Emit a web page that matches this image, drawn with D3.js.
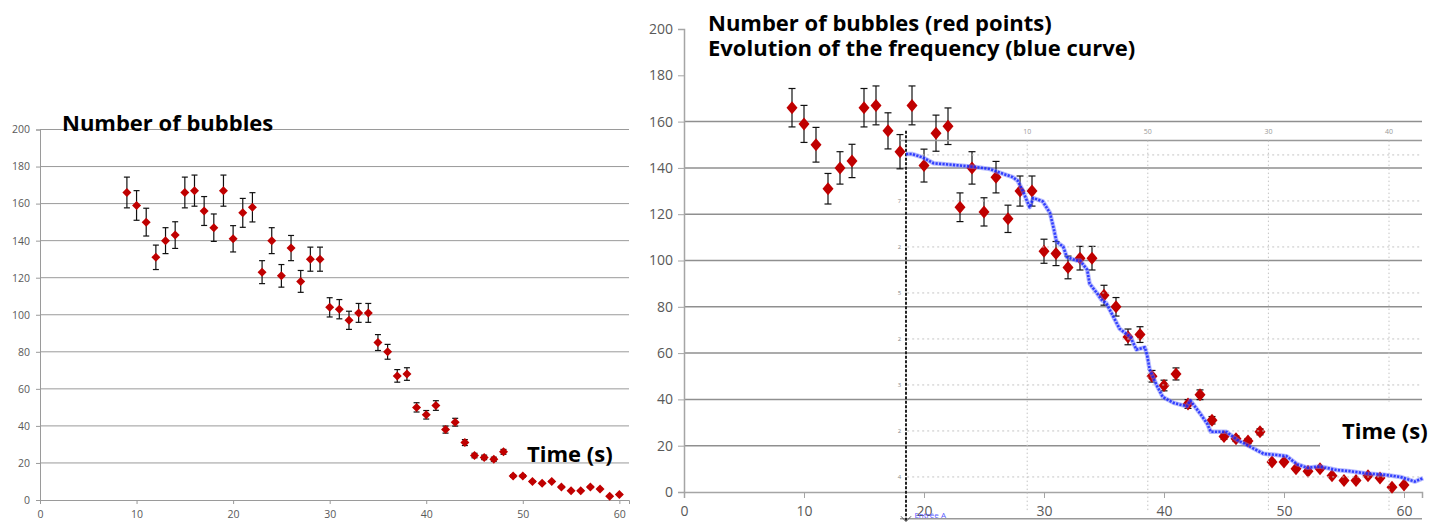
<!DOCTYPE html>
<html>
<head>
<meta charset="utf-8">
<script src="https://cdn.jsdelivr.net/npm/d3@7"></script>
<style>
  body { margin: 0; background: #fff; }
  text { font-family: "Open Sans", sans-serif; }
</style>
</head>
<body>
<svg id="chart" width="1448" height="525"></svg>
<script>
// ---- data ----
const seconds = [9, 10, 11, 12, 13, 14, 15, 16, 17, 18, 19, 20, 21, 22, 23, 24, 25, 26, 27, 28,
  29, 30, 31, 32, 33, 34, 35, 36, 37, 38, 39, 40, 41, 42, 43, 44, 45, 46, 47, 48,
  49, 50, 51, 52, 53, 54, 55, 56, 57, 58, 59, 60];
const bubbles = [166, 159, 150, 131, 140, 143, 166, 167, 156, 147, 167, 141, 155, 158, 123, 140, 121, 136, 118, 130,
  130, 104, 103, 97, 101, 101, 85, 80, 67, 68, 50, 46, 51, 38, 42, 31, 24, 23, 22, 26,
  13, 13, 10, 9, 10, 7, 5, 5, 7, 6, 2, 3];
const bubbleErr = [8.3, 8.0, 7.5, 6.6, 7.0, 7.2, 8.3, 8.4, 7.8, 7.4, 8.4, 7.1, 7.8, 7.9, 6.2, 7.0, 6.1, 6.8, 5.9, 6.5,
  6.5, 5.2, 5.2, 4.9, 5.1, 5.1, 4.3, 4.0, 3.4, 3.4, 2.5, 2.3, 2.6, 1.9, 2.1, 1.6, 1.2, 1.2, 1.1, 1.3,
  0.7, 0.7, 0.5, 0.5, 0.5, 0.4, 0.3, 0.3, 0.4, 0.3, 0.1, 0.2];

// blue frequency curve (rescaled onto the bubble axis)
const freqTime = [18.5, 19.0, 19.9, 20.8, 22.0, 24.1, 25.5, 26.3, 27.4, 27.8, 28.2, 28.8, 29.1, 29.9, 30.5, 30.8,
  31.05, 31.6, 31.9, 32.7, 33.0, 33.6, 33.8, 34.4, 34.8, 35.2, 35.8, 36.3, 37.2, 37.7, 38.4, 38.6,
  38.8, 39.4, 39.9, 40.8, 41.9, 42.2, 43.0, 43.6, 43.9, 45.2, 46.1, 47.2, 48.3, 49.4, 50.2, 51.1,
  51.9, 53.0, 54.4, 55.5, 56.9, 58.3, 59.7, 60.9, 61.6];
const freqValue = [146, 146, 144.5, 142, 141.5, 140.5, 139.5, 138, 136, 134.5, 130.5, 123, 127, 125.5, 120.5, 114,
  108, 106, 101.5, 100, 100, 96, 90, 86, 83, 81.5, 75.5, 70.5, 67, 61.5, 62.5, 59,
  53, 46, 41, 38.5, 37, 39.5, 34, 29.5, 26, 26, 22.5, 19.5, 16.5, 16, 15.5, 12,
  10.5, 11, 9.5, 9, 8, 7.5, 6.5, 4.5, 6];

const yTicks = [0, 20, 40, 60, 80, 100, 120, 140, 160, 180, 200];
const xTicks = [0, 10, 20, 30, 40, 50, 60];

// labels of the pasted frequency screenshot
const insetTopLabels = ["10", "50", "30", "40"];
const insetSideLabels = ["", "7", "2", "5", "2", "3", "2", "4"];

const svg = d3.select("#chart");
svg.append("rect").attr("width", 1448).attr("height", 525).attr("fill", "#fff");

function diamond(w, h) {
  return `M0,${-h}L${w},0L0,${h}L${-w},0Z`;
}

function drawPanel(p) {
  const g = svg.append("g");
  const x = d3.scaleLinear().domain([0, p.xMax]).range(p.xRange);
  const y = d3.scaleLinear().domain([0, 200]).range(p.yRange);

  // gridlines
  g.selectAll(".grid")
    .data(yTicks.filter(v => v > 0 && v <= p.gridMax))
    .join("line")
    .attr("x1", x(0)).attr("x2", x(p.xMax))
    .attr("y1", d => y(d)).attr("y2", d => y(d))
    .attr("stroke", p.gridColor).attr("stroke-width", p.gridWidth);

  // axes
  const yAxis = d3.axisLeft(y).tickValues(yTicks).tickSize(p.tick).tickPadding(p.pad);
  const ya = g.append("g").attr("transform", `translate(${x(0)},0)`).call(yAxis);
  const xAxis = d3.axisBottom(x).tickValues(xTicks).tickSize(p.tick).tickPadding(p.xpad);
  const xa = g.append("g").attr("transform", `translate(0,${y(0)})`).call(xAxis);
  [ya, xa].forEach(a => {
    a.select(".domain").attr("stroke", p.axisColor).attr("stroke-width", p.gridWidth);
    a.selectAll(".tick line").attr("stroke", p.axisColor);
    a.selectAll(".tick text").attr("fill", "#595959").style("font-size", p.font + "px")
      .style("font-family", "'Open Sans', sans-serif");
  });
  return { g, x, y };
}

function drawPoints(panel, p) {
  const { g, x, y } = panel;
  const pts = seconds.map((t, i) => ({ t, v: bubbles[i], e: bubbleErr[i] }));
  const eb = g.append("g").attr("stroke", "#111").attr("stroke-width", 1.2);
  pts.forEach(d => {
    eb.append("line").attr("x1", x(d.t)).attr("x2", x(d.t))
      .attr("y1", y(d.v + d.e)).attr("y2", y(d.v - d.e));
    [d.v + d.e, d.v - d.e].forEach(v => eb.append("line")
      .attr("x1", x(d.t) - p.cap).attr("x2", x(d.t) + p.cap)
      .attr("y1", y(v)).attr("y2", y(v)));
  });
  g.append("g").selectAll("path")
    .data(pts)
    .join("path")
    .attr("d", diamond(p.dw, p.dh))
    .attr("transform", d => `translate(${x(d.t)},${y(d.v)})`)
    .attr("fill", "#c00000");
}

// ---------- left chart ----------
const left = drawPanel({
  xMax: 61, xRange: [40, 629], yRange: [500, 129.5],
  gridMax: 200, gridColor: "#9a9a9a", gridWidth: 1, axisColor: "#9a9a9a",
  tick: 4, pad: 6, xpad: 7, font: 10.5
});
drawPoints(left, { cap: 3, dw: 4.5, dh: 4.5 });

svg.append("text").attr("x", 62).attr("y", 131)
  .attr("font-weight", 700).attr("font-size", 22).text("Number of bubbles");
svg.append("text").attr("x", 527).attr("y", 462)
  .attr("font-weight", 700).attr("font-size", 22).text("Time (s)");

// ---------- right chart ----------
const right = drawPanel({
  xMax: 61.5, xRange: [684, 1422], yRange: [492, 29],
  gridMax: 160, gridColor: "#8f8f8f", gridWidth: 1.5, axisColor: "#a5a5a5",
  tick: 6, pad: 5, xpad: 8, font: 14
});
const rx = right.x, ry = right.y;

// pasted screenshot of the frequency measurement
const inset = svg.append("g");
const ix = d3.scaleLinear().domain([0, 3]).range([rx(28.6), rx(58.75)]);
const iy = d3.scaleLinear().domain([0, 7]).range([ry(145.6), ry(6.5)]);
inset.append("line").attr("x1", rx(18)).attr("x2", rx(61.5))
  .attr("y1", ry(151.8)).attr("y2", ry(151.8)).attr("stroke", "#999").attr("stroke-width", 1.5);
inset.append("line").attr("x1", rx(18)).attr("x2", rx(61.5))
  .attr("y1", ry(-11.6)).attr("y2", ry(-11.6)).attr("stroke", "#999").attr("stroke-width", 1.5);
inset.selectAll(".vg").data(insetTopLabels).join("line")
  .attr("x1", (d, i) => ix(i)).attr("x2", (d, i) => ix(i))
  .attr("y1", ry(151.8)).attr("y2", ry(-8))
  .attr("stroke", "#c4c4c4").attr("stroke-dasharray", "1.5,2.5");
inset.selectAll(".hg").data(insetSideLabels).join("line")
  .attr("x1", rx(18.6)).attr("x2", rx(61.5))
  .attr("y1", (d, i) => iy(i)).attr("y2", (d, i) => iy(i))
  .attr("stroke", "#c4c4c4").attr("stroke-dasharray", "2,3");
inset.selectAll(".tl").data(insetTopLabels).join("text")
  .attr("x", (d, i) => ix(i)).attr("y", ry(154.6))
  .attr("text-anchor", "middle").attr("font-size", 7).attr("fill", "#999").text(d => d);
inset.selectAll(".sl").data(insetSideLabels).join("text")
  .attr("x", rx(18.1)).attr("y", (d, i) => iy(i) + 2.5)
  .attr("text-anchor", "end").attr("font-size", 6).attr("fill", "#888").text(d => d);

// white box behind the time label
svg.append("rect").attr("x", rx(53)).attr("y", ry(39)).attr("width", 130).attr("height", 56).attr("fill", "#fff");

// dashed start marker with arrow
inset.append("line").attr("x1", rx(18.5)).attr("x2", rx(18.5))
  .attr("y1", ry(156)).attr("y2", ry(-12.5))
  .attr("stroke", "#222").attr("stroke-width", 2).attr("stroke-dasharray", "3,1.5");
inset.append("path")
  .attr("d", `M${rx(18.5) - 5},${ry(-10.5)}L${rx(18.5)},${ry(-12.8)}L${rx(18.5) + 5},${ry(-10.5)}`)
  .attr("fill", "none").attr("stroke", "#555").attr("stroke-width", 1);
inset.append("text").attr("x", rx(19.2)).attr("y", ry(-11.2))
  .attr("font-size", 8).attr("fill", "#5a5aff").text("Entrée A");

// blue frequency curve (dotted, fuzzy look)
const freq = freqTime.map((t, i) => ({ t, v: freqValue[i] }));
const freqLine = d3.line().x(d => rx(d.t)).y(d => ry(d.v));
svg.append("path")
  .datum(freq)
  .attr("d", freqLine)
  .attr("fill", "none").attr("stroke", "#6f78ff").attr("stroke-width", 4.5)
  .attr("stroke-opacity", 0.5).attr("stroke-linejoin", "round");

drawPoints(right, { cap: 3.5, dw: 5.5, dh: 6.5 });

svg.append("path")
  .datum(freq)
  .attr("d", freqLine)
  .attr("fill", "none").attr("stroke", "#1020ff").attr("stroke-width", 2.6)
  .attr("stroke-dasharray", "2.2,1.3").attr("stroke-opacity", 0.8)
  .attr("stroke-linejoin", "round");

// title box and titles
svg.append("rect").attr("x", 700).attr("y", 0).attr("width", 748).attr("height", 62).attr("fill", "#fff");
svg.append("text").attr("x", 708).attr("y", 31)
  .attr("font-weight", 700).attr("font-size", 22).text("Number of bubbles (red points)");
svg.append("text").attr("x", 708).attr("y", 56)
  .attr("font-weight", 700).attr("font-size", 22).text("Evolution of the frequency (blue curve)");
svg.append("text").attr("x", 1342).attr("y", 439)
  .attr("font-weight", 700).attr("font-size", 22).text("Time (s)");
</script>
</body>
</html>
